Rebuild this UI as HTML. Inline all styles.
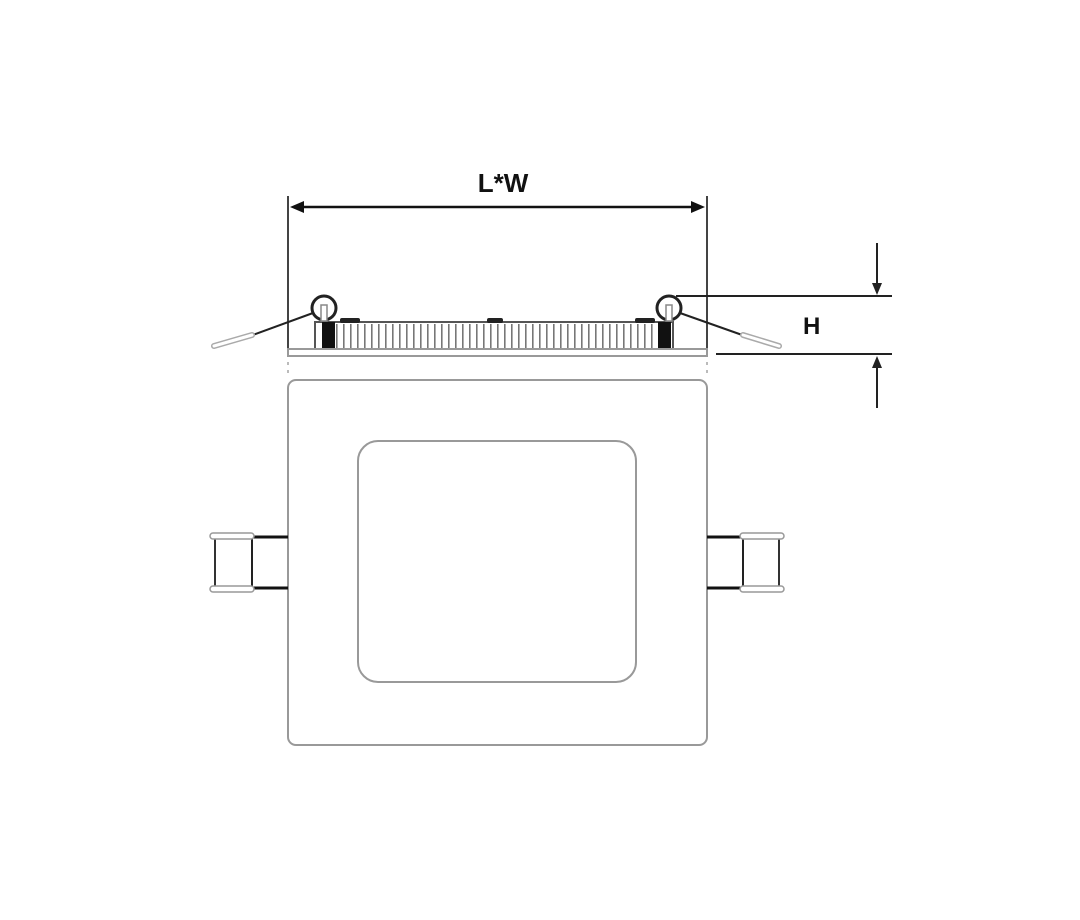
<!DOCTYPE html>
<html><head><style>html,body{margin:0;padding:0;background:#fff}svg{display:block}</style></head>
<body>
<svg width="1080" height="920" viewBox="0 0 1080 920" xmlns="http://www.w3.org/2000/svg">
<defs>
<pattern id="fins" x="0" y="0" width="7" height="30" patternUnits="userSpaceOnUse">
<rect x="0" y="0" width="1.6" height="30" fill="#777"/>
</pattern>
</defs>
<text x="503" y="192" font-family="Liberation Sans, sans-serif" font-weight="bold" font-size="26" text-anchor="middle" fill="#111">L*W</text>
<line x1="288" y1="196" x2="288" y2="350" stroke="#444" stroke-width="2"/>
<line x1="707" y1="196" x2="707" y2="350" stroke="#444" stroke-width="2"/>
<line x1="298" y1="207" x2="697" y2="207" stroke="#111" stroke-width="2.5"/>
<polygon points="290,207 304,201 304,213" fill="#111"/>
<polygon points="705,207 691,201 691,213" fill="#111"/>
<rect x="315" y="322" width="358" height="27" fill="#fff" stroke="#555" stroke-width="2"/>
<rect x="318" y="324" width="352" height="24" fill="url(#fins)"/>
<rect x="322" y="322" width="13" height="27" fill="#111"/>
<rect x="658" y="322" width="13" height="27" fill="#111"/>
<rect x="340" y="318" width="20" height="5" rx="2" fill="#222"/>
<rect x="487" y="318" width="16" height="5" rx="2" fill="#222"/>
<rect x="635" y="318" width="20" height="5" rx="2" fill="#222"/>
<rect x="288" y="349" width="419" height="7" fill="#fff" stroke="#999" stroke-width="2"/>
<circle cx="324" cy="308" r="12" fill="none" stroke="#222" stroke-width="3"/>
<circle cx="669" cy="308" r="12" fill="none" stroke="#222" stroke-width="3"/>
<rect x="321" y="305" width="6" height="16" fill="#fff" stroke="#888" stroke-width="1.5"/>
<rect x="666" y="305" width="6" height="16" fill="#fff" stroke="#888" stroke-width="1.5"/>
<line x1="313" y1="313" x2="250" y2="336" stroke="#222" stroke-width="2"/>
<line x1="680" y1="313" x2="745" y2="336" stroke="#222" stroke-width="2"/>
<line x1="252" y1="335" x2="214" y2="346" stroke="#aaa" stroke-width="6" stroke-linecap="round"/>
<line x1="252" y1="335" x2="214" y2="346" stroke="#fff" stroke-width="3" stroke-linecap="round"/>
<line x1="743" y1="335" x2="779" y2="346" stroke="#aaa" stroke-width="6" stroke-linecap="round"/>
<line x1="743" y1="335" x2="779" y2="346" stroke="#fff" stroke-width="3" stroke-linecap="round"/>
<line x1="676" y1="296" x2="892" y2="296" stroke="#222" stroke-width="2"/>
<line x1="716" y1="354" x2="892" y2="354" stroke="#222" stroke-width="2"/>
<line x1="877" y1="243" x2="877" y2="284" stroke="#222" stroke-width="2"/>
<polygon points="877,295 872,283 882,283" fill="#222"/>
<line x1="877" y1="368" x2="877" y2="408" stroke="#222" stroke-width="2"/>
<polygon points="877,356 872,368 882,368" fill="#222"/>
<text x="803" y="334" font-family="Liberation Sans, sans-serif" font-weight="bold" font-size="24" fill="#111">H</text>
<line x1="288" y1="362" x2="288" y2="376" stroke="#bbb" stroke-width="2" stroke-dasharray="3,5"/>
<line x1="707" y1="362" x2="707" y2="376" stroke="#bbb" stroke-width="2" stroke-dasharray="3,5"/>
<rect x="288" y="380" width="419" height="365" rx="8" fill="#fff" stroke="#999" stroke-width="2"/>
<rect x="358" y="441" width="278" height="241" rx="20" fill="#fff" stroke="#999" stroke-width="2"/>
<line x1="252" y1="537" x2="288" y2="537" stroke="#111" stroke-width="3"/>
<line x1="252" y1="588" x2="288" y2="588" stroke="#111" stroke-width="3"/>
<line x1="252" y1="537" x2="252" y2="588" stroke="#222" stroke-width="2"/>
<line x1="215" y1="537" x2="215" y2="588" stroke="#333" stroke-width="2"/>
<rect x="210" y="533" width="44" height="6" rx="3" fill="#fff" stroke="#999" stroke-width="1.5"/>
<rect x="210" y="586" width="44" height="6" rx="3" fill="#fff" stroke="#999" stroke-width="1.5"/>
<line x1="707" y1="537" x2="743" y2="537" stroke="#111" stroke-width="3"/>
<line x1="707" y1="588" x2="743" y2="588" stroke="#111" stroke-width="3"/>
<line x1="743" y1="537" x2="743" y2="588" stroke="#222" stroke-width="2"/>
<line x1="779" y1="537" x2="779" y2="588" stroke="#333" stroke-width="2"/>
<rect x="740" y="533" width="44" height="6" rx="3" fill="#fff" stroke="#999" stroke-width="1.5"/>
<rect x="740" y="586" width="44" height="6" rx="3" fill="#fff" stroke="#999" stroke-width="1.5"/>
</svg>
</body></html>
